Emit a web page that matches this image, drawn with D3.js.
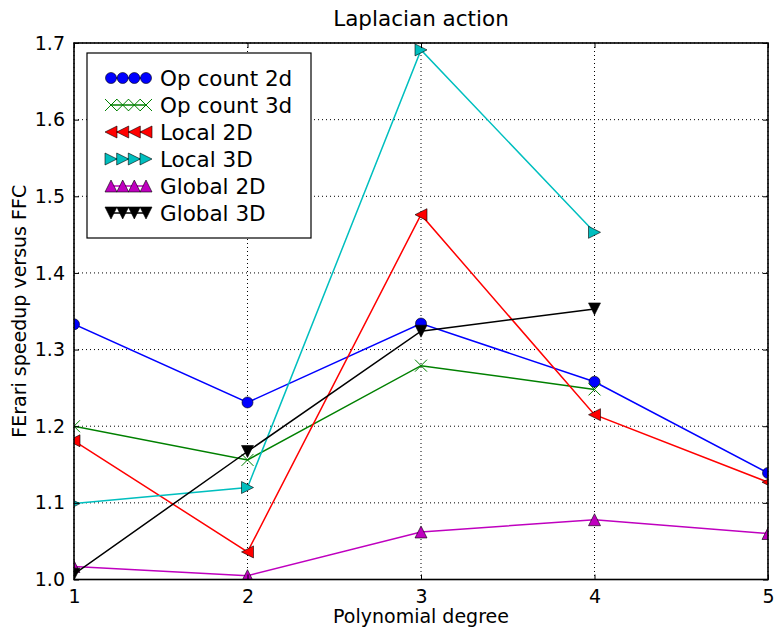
<!DOCTYPE html>
<html>
<head>
<meta charset="utf-8">
<script src="https://cdn.jsdelivr.net/npm/d3@7"></script>
<style>
  body { margin: 0; background: #fff; }
  text { font-family: "DejaVu Sans", sans-serif; }
</style>
</head>
<body>
<script>
// data
var degrees = [1, 2, 3, 4, 5];
var opCount2d = [1.333, 1.231, 1.334, 1.258, 1.139];
var opCount3d = [1.200, 1.156, 1.279, 1.248];
var local2D = [1.181, 1.036, 1.476, 1.215, 1.127];
var local3D = [1.099, 1.120, 1.691, 1.453];
var global2D = [1.017, 1.005, 1.062, 1.078, 1.060];
var global3D = [1.007, 1.167, 1.324, 1.353];
var xTicks = [1, 2, 3, 4, 5];
var yTicks = [1.0, 1.1, 1.2, 1.3, 1.4, 1.5, 1.6, 1.7];

var series = [
    { name: "Op count 2d", values: opCount2d, color: "#0000ff", marker: "circle" },
    { name: "Op count 3d", values: opCount3d, color: "#008000", marker: "x" },
    { name: "Local 2D", values: local2D, color: "#ff0000", marker: "tleft" },
    { name: "Local 3D", values: local3D, color: "#00bfbf", marker: "tright" },
    { name: "Global 2D", values: global2D, color: "#bf00bf", marker: "tup" },
    { name: "Global 3D", values: global3D, color: "#000000", marker: "tdown" }
];

var W = 774, H = 632;
var pLeft = 74, pRight = 768, pTop = 43, pBottom = 579.5;

var svg = d3.select("body").append("svg")
    .attr("width", W)
    .attr("height", H);

var x = d3.scaleLinear().domain([1, 5]).range([pLeft, pRight]);
var y = d3.scaleLinear().domain([1.0, 1.7]).range([pBottom, pTop]);

svg.append("defs").append("clipPath")
    .attr("id", "plotclip")
    .append("rect")
    .attr("x", pLeft).attr("y", pTop)
    .attr("width", pRight - pLeft).attr("height", pBottom - pTop);

// grid
var grid = svg.append("g");
grid.selectAll(".gx").data(xTicks).enter().append("line")
    .attr("x1", d => x(d)).attr("x2", d => x(d))
    .attr("y1", pTop).attr("y2", pBottom)
    .attr("stroke", "#000").attr("stroke-width", 1)
    .attr("stroke-dasharray", "1,3");
grid.selectAll(".gy").data(yTicks).enter().append("line")
    .attr("x1", pLeft).attr("x2", pRight)
    .attr("y1", d => y(d)).attr("y2", d => y(d))
    .attr("stroke", "#000").attr("stroke-width", 1)
    .attr("stroke-dasharray", "1,3");

function drawMarker(g, kind, color, cx, cy) {
    var s = 6;
    if (kind == "circle") {
        g.append("circle").attr("cx", cx).attr("cy", cy).attr("r", 5.5)
            .attr("fill", color).attr("stroke", "#000").attr("stroke-width", 0.6);
    } else if (kind == "x") {
        g.append("path")
            .attr("d", "M" + (cx - s) + "," + (cy - s) + "L" + (cx + s) + "," + (cy + s) +
                "M" + (cx - s) + "," + (cy + s) + "L" + (cx + s) + "," + (cy - s))
            .attr("stroke", color).attr("stroke-width", 1).attr("fill", "none");
    } else {
        var pts;
        if (kind == "tup") pts = [[cx, cy - s], [cx - s, cy + s], [cx + s, cy + s]];
        if (kind == "tdown") pts = [[cx, cy + s], [cx - s, cy - s], [cx + s, cy - s]];
        if (kind == "tleft") pts = [[cx - s, cy], [cx + s, cy - s], [cx + s, cy + s]];
        if (kind == "tright") pts = [[cx + s, cy], [cx - s, cy - s], [cx - s, cy + s]];
        g.append("path")
            .attr("d", "M" + pts.map(p => p.join(",")).join("L") + "Z")
            .attr("fill", color).attr("stroke", "#000").attr("stroke-width", 0.6);
    }
}

var plot = svg.append("g").attr("clip-path", "url(#plotclip)");
var line = d3.line().x((d, i) => x(degrees[i])).y(d => y(d));

series.forEach(function (s) {
    plot.append("path")
        .datum(s.values)
        .attr("d", line)
        .attr("fill", "none")
        .attr("stroke", s.color)
        .attr("stroke-width", 1.5);
    var mg = plot.append("g");
    s.values.forEach(function (v, i) {
        drawMarker(mg, s.marker, s.color, x(degrees[i]), y(v));
    });
});

// frame
svg.append("rect")
    .attr("x", pLeft).attr("y", pTop)
    .attr("width", pRight - pLeft).attr("height", pBottom - pTop)
    .attr("fill", "none").attr("stroke", "#000").attr("stroke-width", 1.6);

// axes with inward ticks
var axB = svg.append("g").attr("transform", "translate(0," + pBottom + ")")
    .call(d3.axisBottom(x).tickValues(xTicks).tickFormat(d3.format("d")).tickSizeInner(-5).tickSizeOuter(0).tickPadding(10));
var axT = svg.append("g").attr("transform", "translate(0," + pTop + ")")
    .call(d3.axisTop(x).tickValues(xTicks).tickFormat("").tickSizeInner(-5).tickSizeOuter(0));
var axL = svg.append("g").attr("transform", "translate(" + pLeft + ",0)")
    .call(d3.axisLeft(y).tickValues(yTicks).tickFormat(d3.format(".1f")).tickSizeInner(-5).tickSizeOuter(0).tickPadding(9));
var axR = svg.append("g").attr("transform", "translate(" + pRight + ",0)")
    .call(d3.axisRight(y).tickValues(yTicks).tickFormat("").tickSizeInner(-5).tickSizeOuter(0));

[axB, axT, axL, axR].forEach(function (a) {
    a.select(".domain").remove();
    a.selectAll(".tick line").attr("stroke", "#000").attr("stroke-width", 1);
    a.selectAll("text").attr("font-family", "DejaVu Sans").attr("font-size", 19).attr("fill", "#000");
});

// titles
svg.append("text").attr("x", (pLeft + pRight) / 2).attr("y", 26)
    .attr("text-anchor", "middle").attr("font-size", 21.5).text("Laplacian action");
svg.append("text").attr("x", (pLeft + pRight) / 2).attr("y", 623)
    .attr("text-anchor", "middle").attr("font-size", 19).text("Polynomial degree");
svg.append("text")
    .attr("transform", "translate(26," + ((pTop + pBottom) / 2) + ") rotate(-90)")
    .attr("text-anchor", "middle").attr("font-size", 19).text("FErari speedup versus FFC");

// legend
var lg = svg.append("g");
lg.append("rect").attr("x", 87).attr("y", 53).attr("width", 224).attr("height", 185)
    .attr("fill", "#fff").attr("stroke", "#000").attr("stroke-width", 1.2);
var mx = [111, 122.7, 134.3, 146];
series.forEach(function (s, i) {
    var ly = 78 + i * 27;
    lg.append("line").attr("x1", mx[0]).attr("x2", mx[3]).attr("y1", ly).attr("y2", ly)
        .attr("stroke", s.color).attr("stroke-width", 1.5);
    mx.forEach(function (px) { drawMarker(lg, s.marker, s.color, px, ly); });
    lg.append("text").attr("x", 160).attr("y", ly + 8).attr("font-size", 21.5).text(s.name);
});
</script>
</body>
</html>
